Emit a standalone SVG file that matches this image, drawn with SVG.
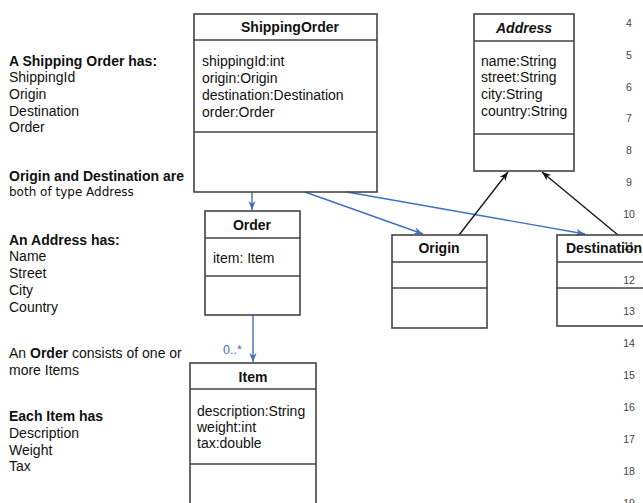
<svg xmlns="http://www.w3.org/2000/svg" width="643" height="503" viewBox="0 0 643 503">
  <style>
    text { font-family: "Liberation Sans", Arial, sans-serif; fill: #111; }
    .note { font-size: 14px; }
    .noteb { font-size: 14px; font-weight: bold; }
    .small { font-family: "DejaVu Sans", Verdana, sans-serif; font-size: 12px; }
    .title { font-size: 14px; font-weight: bold; text-anchor: middle; }
    .attr { font-size: 14px; }
    .ln { font-size: 10.5px; fill: #444; text-anchor: middle; }
    .box { fill: none; stroke: #444; stroke-width: 1.6; }
    .div { stroke: #444; stroke-width: 1.6; }
    .blue { stroke: #3f6fc4; stroke-width: 1.4; fill: none; }
    .black { stroke: #111; stroke-width: 1.3; fill: none; }
    .mult { font-size: 12.5px; fill: #3f6fc4; }
  </style>
  <defs>
    <marker id="arrowBlue" viewBox="0 0 10 10" refX="10" refY="5" markerWidth="11" markerHeight="9" markerUnits="userSpaceOnUse" orient="auto">
      <path d="M0,1 L10,5 L0,9 L3,5 Z" fill="#3f6fc4"/>
    </marker>
    <marker id="arrowBlack" viewBox="0 0 10 10" refX="10" refY="5" markerWidth="11" markerHeight="9" markerUnits="userSpaceOnUse" orient="auto">
      <path d="M0,1 L10,5 L0,9 L3,5 Z" fill="#111"/>
    </marker>
  </defs>

  <rect width="643" height="503" fill="#fff"/>

  <!-- line numbers in the right margin -->
  <g id="line-numbers">
    <text class="ln" x="629" y="27">4</text>
    <text class="ln" x="629" y="59">5</text>
    <text class="ln" x="629" y="91">6</text>
    <text class="ln" x="629" y="122">7</text>
    <text class="ln" x="629" y="154">8</text>
    <text class="ln" x="629" y="186">9</text>
    <text class="ln" x="629" y="218">10</text>
    <text class="ln" x="629" y="250">11</text>
    <text class="ln" x="629" y="284">12</text>
    <text class="ln" x="629" y="315">13</text>
    <text class="ln" x="629" y="347">14</text>
    <text class="ln" x="629" y="379">15</text>
    <text class="ln" x="629" y="411">16</text>
    <text class="ln" x="629" y="443">17</text>
    <text class="ln" x="629" y="475">18</text>
    <text class="ln" x="629" y="507">19</text>
  </g>

  <!-- explanatory notes -->
  <g id="notes">
    <text class="noteb" x="9" y="66">A Shipping Order has:</text>
    <text class="note" x="9" y="82">ShippingId</text>
    <text class="note" x="9" y="99">Origin</text>
    <text class="note" x="9" y="116">Destination</text>
    <text class="note" x="9" y="132">Order</text>
    <text class="noteb" x="9" y="181">Origin and Destination are</text>
    <text class="small" x="9" y="196">both of type Address</text>
    <text class="noteb" x="9" y="245">An Address has:</text>
    <text class="note" x="9" y="261">Name</text>
    <text class="note" x="9" y="278">Street</text>
    <text class="note" x="9" y="295">City</text>
    <text class="note" x="9" y="312">Country</text>
    <text class="note" x="9" y="358">An <tspan font-weight="bold">Order</tspan> consists of one or</text>
    <text class="note" x="9" y="375">more Items</text>
    <text class="noteb" x="9" y="421">Each Item has</text>
    <text class="note" x="9" y="438">Description</text>
    <text class="note" x="9" y="455">Weight</text>
    <text class="note" x="9" y="471">Tax</text>
  </g>

  <!-- connectors -->
  <g id="connectors">
    <line class="blue" x1="252" y1="192" x2="252" y2="210" marker-end="url(#arrowBlue)"/>
    <line class="blue" x1="305" y1="192" x2="423" y2="234" marker-end="url(#arrowBlue)"/>
    <line class="blue" x1="347" y1="192" x2="585" y2="234" marker-end="url(#arrowBlue)"/>
    <line class="blue" x1="253" y1="315" x2="253" y2="362" marker-end="url(#arrowBlue)"/>
    <text class="mult" x="223" y="354">0..*</text>
    <line class="black" x1="459" y1="235" x2="508" y2="172" marker-end="url(#arrowBlack)"/>
    <line class="black" x1="618" y1="235" x2="542" y2="172" marker-end="url(#arrowBlack)"/>
  </g>

  <!-- classes -->
  <g id="ShippingOrder">
    <rect class="box" x="194" y="14" width="183" height="178"/>
    <line class="div" x1="194" y1="40" x2="377" y2="40"/>
    <line class="div" x1="194" y1="132" x2="377" y2="132"/>
    <text class="title" x="290" y="32">ShippingOrder</text>
    <text class="attr" x="202" y="66">shippingId:int</text>
    <text class="attr" x="202" y="83">origin:Origin</text>
    <text class="attr" x="202" y="100">destination:Destination</text>
    <text class="attr" x="202" y="117">order:Order</text>
  </g>

  <g id="Address">
    <rect class="box" x="474" y="14" width="100" height="157"/>
    <line class="div" x1="474" y1="41" x2="574" y2="41"/>
    <line class="div" x1="474" y1="134" x2="574" y2="134"/>
    <text class="title" x="524" y="33" font-style="italic">Address</text>
    <text class="attr" x="481" y="66">name:String</text>
    <text class="attr" x="481" y="82">street:String</text>
    <text class="attr" x="481" y="99">city:String</text>
    <text class="attr" x="481" y="116">country:String</text>
  </g>

  <g id="Origin">
    <rect class="box" x="392" y="235" width="95" height="93"/>
    <line class="div" x1="392" y1="262" x2="487" y2="262"/>
    <line class="div" x1="392" y1="288" x2="487" y2="288"/>
    <text class="title" x="439" y="253">Origin</text>
  </g>

  <g id="Destination">
    <rect class="box" x="557" y="235" width="92" height="91"/>
    <line class="div" x1="557" y1="262" x2="643" y2="262"/>
    <line class="div" x1="557" y1="288" x2="643" y2="288"/>
    <text class="title" x="604" y="253">Destination</text>
  </g>

  <g id="Order">
    <rect class="box" x="205" y="211" width="95" height="104"/>
    <line class="div" x1="205" y1="238" x2="300" y2="238"/>
    <line class="div" x1="205" y1="276" x2="300" y2="276"/>
    <text class="title" x="252" y="230">Order</text>
    <text class="attr" x="213" y="263">item: Item</text>
  </g>

  <g id="Item">
    <rect class="box" x="190" y="363" width="126" height="145"/>
    <line class="div" x1="190" y1="389" x2="316" y2="389"/>
    <line class="div" x1="190" y1="464" x2="316" y2="464"/>
    <text class="title" x="253" y="382">Item</text>
    <text class="attr" x="197" y="416">description:String</text>
    <text class="attr" x="197" y="432">weight:int</text>
    <text class="attr" x="197" y="448">tax:double</text>
  </g>
</svg>
